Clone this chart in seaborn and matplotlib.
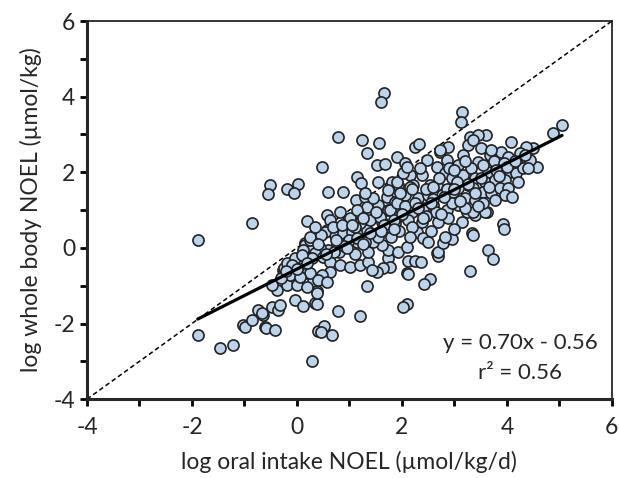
import numpy as np
import matplotlib

matplotlib.use('Agg')
import matplotlib.pyplot as plt
import pandas as pd
import seaborn as sns

# log oral intake NOEL (x) and log whole body NOEL (y)
oral_noel = [
    -1.89, -1.89, -1.47, -1.22, -1.03, -0.98, -0.86, -0.74, -0.65, -0.61,
    -0.67, -0.59, -0.48, -0.42, -0.36, -0.32, -0.38, -0.48, -0.27, -0.19,
    -0.13, -0.04, 0.00, 0.06, 0.11, 0.15, 0.19, 0.28, 0.40, 0.34,
    0.30, 0.38, -0.86, -0.51, -0.55, -0.19, 0.02, -0.06, 0.19, 0.48,
    1.66, 1.60, 3.14, 3.12, 0.78, 1.24, 1.56, 1.33, 1.52, 1.68,
    1.90, 2.25, 2.32, 1.14, 1.22, 0.59, 0.88, 5.05, 4.88, 4.57,
    3.92, 3.94, 3.33, 3.62, 3.39, 3.64, 3.73, 3.30, 2.67, 2.53,
    2.42, 2.10, 2.10, 2.02, 1.33, 0.78, 1.20, 0.51, 0.46, 0.67,
    0.38, 0.38, 0.19, -0.25, 0.06, 0.15, 0.30, 2.11, 2.11, 2.25,
    2.36, 2.69, 2.69, 2.78, 2.95, 2.82, 1.73, 1.77, 1.64, 1.52,
    1.73, 1.62, 1.92, 2.10, 2.29, 2.40, 3.35, 1.12, 1.30, 0.57,
    0.82, 1.16, 0.63, 0.97, 1.35, 2.06, 2.48, 2.88, 2.72, 3.30,
    3.26, 3.16, 2.86, 3.07, 2.67, 1.54, 1.81, 1.92, 2.15, 2.21,
    2.38, 2.53, 2.67, 2.82, 2.95, 3.16, 3.26, 3.07, 1.71, 1.87,
    2.06, 2.30, 2.50, 2.76, 2.97, 3.20, 1.54, 1.73, 1.92, 2.19,
    2.40, 2.59, 2.86, 3.07, 3.24, 1.62, 1.87, 2.11, 2.38, 2.69,
    2.88, 3.14, 4.50, 4.36, 4.08, 3.60, 3.45, 3.35, 3.50, 3.68,
    3.89, 4.02, 4.21, 3.45, 3.31, 3.64, 3.87, 4.06, 4.17, 3.39,
    3.58, 3.77, 3.96, 4.21, 3.35, 3.54, 3.70, 3.87, 4.02, 3.39,
    3.35, 3.58, 0.57, 0.72, 0.88, 1.05, 1.20, 1.33, 1.45, 1.45,
    1.30, 1.14, 0.95, 0.76, 0.59, 0.44, 0.34, 0.29, 0.50, 0.63,
    0.82, 1.01, 1.20, 1.35, 1.43, 0.63, 0.48, 0.25, 0.06, 0.40,
    0.57, -0.19, -0.04, 0.11, 0.25, 0.25, 0.53, 0.69, 1.01, 1.20,
    1.39, 1.58, 1.77, 1.54, 1.90, 1.96, 2.15, 1.90, 1.33, 1.14,
    1.45, 1.30, 1.73, 2.02, 2.10, 2.72, 4.25, 4.44, 4.30, 3.96,
    3.77, 3.55, 4.10, 3.20, 3.45, 2.95, 2.65, 2.45, 2.20, 1.95,
    1.80, 1.70, 2.55, 3.00, 2.05, 2.25, 2.60, 2.85, 3.05, 2.70,
    2.45, 2.35, 2.90, 3.55, 3.75, 3.95, 3.20, 1.00, 0.85, 1.10,
    1.25, 0.45, 0.35, 0.10, -0.10, -0.30, 0.80, 1.10, 1.35, 1.55,
    1.95, 2.15, 2.50,
    # extra points in the crowded band
    0.70, 0.90, 1.15, 1.40, 1.65, 1.85, 2.00, 2.30, 2.55, 2.80,
    3.00, 3.25, 3.50, 3.80, 4.00, 4.15, 4.35, 0.20, 0.55, 0.95,
    1.25, 1.60, 1.85, 2.40, 2.75, 3.10, 3.40, 3.65, 3.85, 4.40,
    0.00, -0.20, 0.40, 0.75, 1.05, 1.50, 2.20, 2.60, 3.00, 3.70,
]
body_noel = [
    0.21, -2.30, -2.65, -2.57, -2.04, -2.08, -1.90, -1.64, -1.77, -2.10,
    -1.72, -2.12, -1.56, -2.17, -1.64, -1.51, -1.11, -0.98, -0.58, -0.98,
    -0.71, -1.38, -0.98, -0.45, -1.53, 0.13, -0.66, -2.99, -2.20, -1.46,
    -0.87, -1.14, 0.66, 1.67, 1.43, 1.56, 1.69, 1.46, 0.71, 2.14,
    4.10, 3.87, 3.60, 3.33, 2.94, 2.86, 2.78, 2.51, 2.20, 2.22,
    2.41, 2.67, 2.75, 1.88, 1.72, 1.48, 1.48, 3.25, 3.04, 2.14,
    0.63, 0.50, 0.40, 0.95, 0.87, -0.05, -0.29, -0.61, -0.13, -0.82,
    -0.95, -0.66, -1.48, -1.56, -1.00, -1.67, -1.80, -2.06, -2.22, -2.30,
    -1.48, -1.19, -1.03, -0.53, -0.26, 0.08, 0.00, -0.69, -0.34, -0.34,
    -0.37, -0.21, -0.11, 0.13, 0.24, 0.29, -0.26, -0.50, -0.53, -0.63,
    -0.05, 0.08, -0.11, 0.03, 0.42, 0.26, 0.34, 1.27, 1.35, 0.87,
    0.95, 0.95, 0.74, 0.74, 0.85, 2.25, 2.33, 2.67, 2.54, 2.94,
    2.72, 2.46, 2.33, 2.20, 2.14, 1.75, 1.75, 1.67, 1.93, 1.67,
    1.93, 1.67, 1.67, 1.98, 1.85, 1.93, 1.67, 1.59, 1.35, 1.22,
    1.40, 1.32, 1.40, 1.40, 1.48, 1.32, 1.06, 1.00, 1.08, 0.95,
    1.06, 1.14, 1.00, 1.14, 0.95, 0.69, 0.66, 0.74, 0.69, 0.69,
    0.79, 0.69, 2.65, 2.67, 2.80, 2.99, 2.99, 2.86, 2.65, 2.46,
    2.54, 2.41, 2.20, 2.28, 2.12, 2.01, 2.12, 2.01, 1.98, 1.85,
    1.75, 1.80, 1.80, 1.75, 1.59, 1.48, 1.46, 1.59, 1.59, 1.27,
    0.95, 0.95, 0.48, 0.34, 0.40, 0.42, 0.34, 0.48, 0.34, 0.16,
    0.16, 0.16, 0.16, 0.08, -0.05, 0.00, -0.13, -0.26, -0.24, -0.37,
    -0.45, -0.50, -0.45, -0.37, -0.58, -0.63, -0.71, -0.66, -0.77, -0.85,
    -0.90, -0.40, -0.26, -0.05, 0.21, 0.29, 0.42, 0.56, 0.79, 0.66,
    0.74, 0.82, 1.00, 1.14, 1.19, 1.46, 1.61, 1.75, 1.08, 1.00,
    1.32, 1.46, 1.53, 1.98, 2.14, 2.59, 2.51, 2.33, 2.10, 1.40,
    1.27, 1.20, 1.35, 1.05, 1.10, 1.20, 0.95, 0.85, 0.55, 0.45,
    0.30, 0.55, 0.45, 0.50, 1.10, 1.20, 1.30, 1.55, 1.75, 1.85,
    1.55, 2.10, 2.10, 2.20, 2.30, 2.25, 2.30, 0.20, 0.60, 0.55,
    0.80, 0.35, 0.55, -0.20, -0.45, -0.80, -0.10, -0.15, -0.10, 0.30,
    0.85, 0.30, 0.15,
    # extra points in the crowded band
    -0.10, 0.05, 0.25, 0.40, 0.60, 0.75, 0.90, 1.05, 1.20, 1.35,
    1.55, 1.70, 1.85, 2.05, 2.15, 2.30, 2.45, -0.40, -0.15, 0.00,
    0.10, 0.45, 0.50, 0.80, 0.90, 1.25, 1.45, 1.60, 1.90, 2.10,
    -0.55, -0.60, 0.10, 0.20, 0.60, 0.95, 1.55, 1.60, 2.05, 2.60,
]

# fitted line reported on the figure
slope = 0.70
intercept = -0.56

df = pd.DataFrame({'oral': oral_noel, 'body': body_noel})

sns.set_style('ticks')
plt.rcParams['font.family'] = ['Lato', 'DejaVu Sans']
plt.rcParams['axes.unicode_minus'] = False

fig = plt.figure(figsize=(6.19, 4.78), dpi=100)
ax = fig.add_axes([0.1405, 0.165, 0.848, 0.791])

# 1:1 reference line
ax.plot([-4, 6], [-4, 6], ls=(0, (3, 2)), color='black', lw=1.1, zorder=1)

sns.scatterplot(data=df, x='oral', y='body', ax=ax, s=64,
                color='#bcd3ec', edgecolor='#222222', linewidth=1.2, zorder=2)

x_fit = np.array([df['oral'].min(), df['oral'].max()])
ax.plot(x_fit, slope * x_fit + intercept, color='black', lw=2.3, zorder=3)

ax.text(4.25, -2.51, f'y = {slope:.2f}x - {abs(intercept):.2f}', ha='center',
        va='center', fontsize=16)
ax.text(4.25, -3.31, 'r² = 0.56', ha='center', va='center', fontsize=16)

ax.set_xlim(-4, 6)
ax.set_ylim(-4, 6)
ax.set_xticks(np.arange(-4, 7, 2))
ax.set_yticks(np.arange(-4, 7, 2))
ax.set_xticks(np.arange(-3, 6, 2), minor=True)
ax.set_yticks(np.arange(-3, 6, 2), minor=True)
ax.tick_params(which='both', direction='out', length=5, width=2, color='black',
               labelsize=16.5)
ax.tick_params(axis='x', pad=8)

ax.set_xlabel('log oral intake NOEL (µmol/kg/d)', fontsize=16.5, labelpad=9)
ax.set_ylabel('log whole body NOEL (µmol/kg)', fontsize=16.5, labelpad=8)

for side in ['left', 'bottom']:
    ax.spines[side].set_linewidth(2.2)
for side in ['top', 'right']:
    ax.spines[side].set_linewidth(1.3)
    ax.spines[side].set_visible(True)

fig.savefig('out.png', dpi=100)
plt.close(fig)
